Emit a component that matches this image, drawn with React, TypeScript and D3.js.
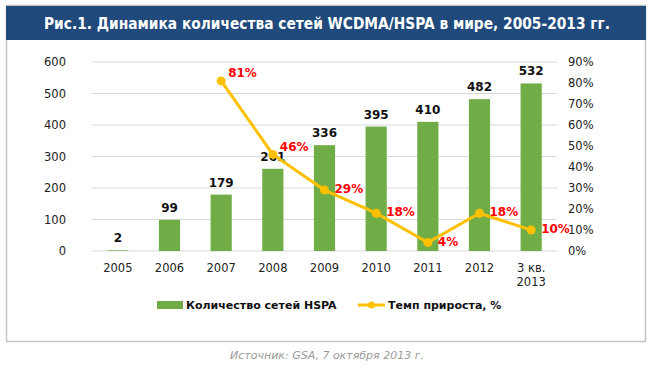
import React, { useEffect } from 'react';
import * as d3 from 'd3';

const categories = ['2005', '2006', '2007', '2008', '2009', '2010', '2011', '2012', '3 кв.|2013'];
const networks = [2, 99, 179, 261, 336, 395, 410, 482, 532];
const growth: (number | null)[] = [null, null, 0.81, 0.46, 0.29, 0.18, 0.04, 0.18, 0.1];
const leftTicks = [0, 100, 200, 300, 400, 500, 600];
const rightTicks = [0, 0.1, 0.2, 0.3, 0.4, 0.5, 0.6, 0.7, 0.8, 0.9];

const title = 'Рис.1. Динамика количества сетей WCDMA/HSPA в мире, 2005-2013 гг.';
const source = 'Источник: GSA, 7 октября 2013 г.';
const legendBars = 'Количество сетей HSPA';
const legendLine = 'Темп прироста, %';

const W = 653;
const H = 370;
const font = '"DejaVu Sans", Verdana, sans-serif';
const green = '#70AD47';
const gold = '#FFC000';

export default function App() {
    useEffect(() => {
        document.body.style.margin = '0';
    }, []);

    const x = d3.scaleBand().domain(categories).range([92, 557]).paddingInner(0.59).paddingOuter(0.295);
    const y = d3.scaleLinear().domain([0, 600]).range([251, 62]);
    const y2 = d3.scaleLinear().domain([0, 0.9]).range([251, 62]);
    const cx = (c: string) => (x(c) as number) + x.bandwidth() / 2;

    const pts = categories
        .map((c, i) => ({ c, v: growth[i] }))
        .filter(d => d.v !== null) as { c: string; v: number }[];
    const line = d3.line<{ c: string; v: number }>().x(d => cx(d.c)).y(d => y2(d.v));

    // labels sit to the right; lift them where the line drops steeply
    const steep = (i: number) => i < pts.length - 1 && pts[i].v - pts[i + 1].v > 0.15;

    return (
        <svg width={W} height={H} style={{ display: 'block', fontFamily: font }}>
            <rect x={0} y={0} width={W} height={H} fill="#fff" />
            <rect x={6.5} y={5.5} width={639} height={336} fill="#fff" stroke="#c4c4c4" strokeWidth={1.5} />
            <rect x={6} y={6} width={640} height={34} fill="#214A7C" />
            <text x={327} y={29} textAnchor="middle" fill="#fff" fontWeight="bold" fontSize={15}
                textLength={566} lengthAdjust="spacingAndGlyphs"
                style={{ fontFamily: '"DejaVu Sans Condensed", "DejaVu Sans", sans-serif' }}>
                {title}
            </text>

            {leftTicks.map(t => (
                <g key={'l' + t}>
                    <line x1={92} x2={557} y1={y(t)} y2={y(t)} stroke="#d9d9d9" strokeWidth={1} />
                    <text x={66} y={y(t)} dy="0.35em" textAnchor="end" fontSize={11.5} fill="#222">{t}</text>
                </g>
            ))}
            {rightTicks.map(t => (
                <text key={'r' + t} x={568} y={y2(t)} dy="0.35em" fontSize={11.5} fill="#222">
                    {d3.format('.0%')(t)}
                </text>
            ))}

            {categories.map((c, i) => (
                <g key={c}>
                    <rect x={x(c)} y={y(networks[i])} width={x.bandwidth()} height={251 - y(networks[i])} fill={green} />
                    <text x={cx(c)} y={y(networks[i]) - 8} textAnchor="middle" fontSize={12} fontWeight="bold" fill="#111">
                        {networks[i]}
                    </text>
                    {c.split('|').map((part, k) => (
                        <text key={k} x={cx(c)} y={272 + k * 14} textAnchor="middle" fontSize={11.5} fill="#222">{part}</text>
                    ))}
                </g>
            ))}

            <path d={line(pts) || ''} fill="none" stroke={gold} strokeWidth={3} />
            {pts.map((d, i) => (
                <g key={'p' + d.c}>
                    <circle cx={cx(d.c)} cy={y2(d.v)} r={4.5} fill={gold} />
                    <text x={cx(d.c) + (steep(i) ? 7 : 10)} y={y2(d.v) + (steep(i) ? -8 : -1)} dy="0.35em"
                        fontSize={12} fontWeight="bold" fill="#FF0000">
                        {d3.format('.0%')(d.v)}
                    </text>
                </g>
            ))}

            <rect x={157} y={301} width={26} height={8} fill={green} />
            <text x={186} y={305} dy="0.35em" fontSize={11} fontWeight="bold" fill="#111">{legendBars}</text>
            <line x1={358} x2={385} y1={305} y2={305} stroke={gold} strokeWidth={3} />
            <circle cx={371.5} cy={305} r={3.5} fill={gold} />
            <text x={388} y={305} dy="0.35em" fontSize={11} fontWeight="bold" fill="#111">{legendLine}</text>

            <text x={327} y={359} textAnchor="middle" fontSize={11} fontStyle="italic" fill="#9a9a9a">{source}</text>
        </svg>
    );
}
